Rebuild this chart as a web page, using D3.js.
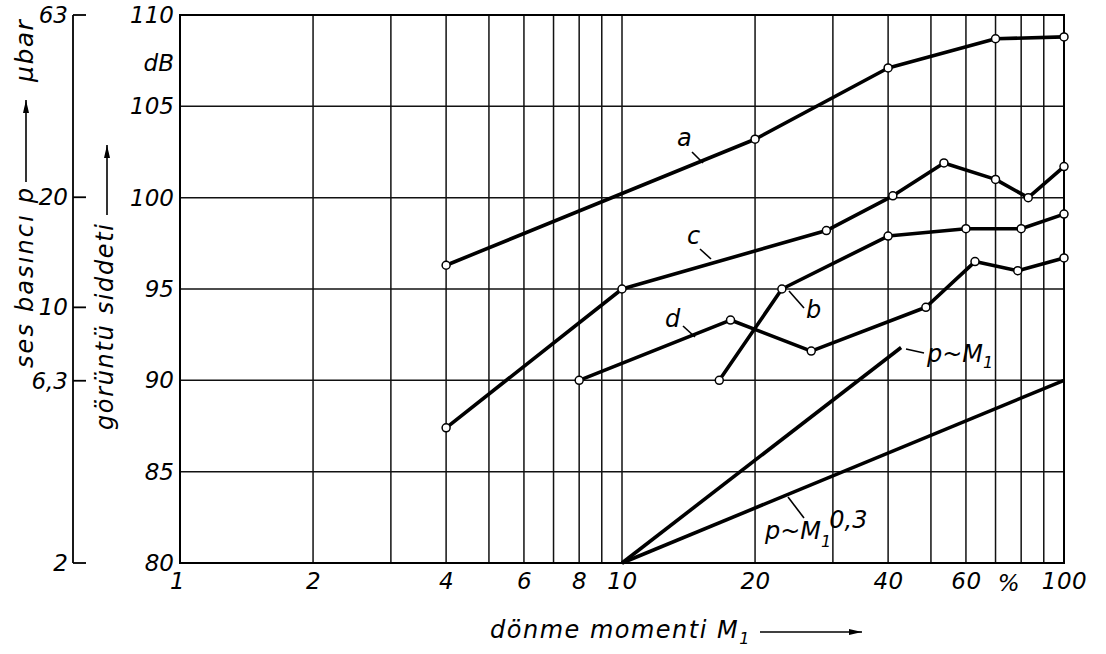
<!DOCTYPE html>
<html><head><meta charset="utf-8">
<script src="https://cdn.jsdelivr.net/npm/d3@7"></script>
<style>body{margin:0;background:#fff}</style>
</head><body>
<svg id="chart" width="1106" height="654"></svg>
<script>
// ---- data ----
const xTickValues = [1, 2, 4, 6, 8, 10, 20, 40, 60, 100];
const xGridValues = [2, 3, 4, 5, 6, 7, 8, 9, 10, 20, 30, 40, 50, 60, 70, 80, 90];
const xUnitLabel = "%";
const xUnitAt = 75;
const yTickValues = [80, 85, 90, 95, 100, 105, 110];
const pTickValues = [2, 6.3, 10, 20, 63];
const pTickLabels = ["2", "6,3", "10", "20", "63"];
const seriesA = [[4, 96.3], [20, 103.2], [40, 107.1], [70, 108.7], [100, 108.8]];
const seriesB = [[16.6, 90], [23, 95], [40, 97.9], [60, 98.3], [80, 98.3], [100, 99.1]];
const seriesC = [[4, 87.4], [10, 95], [29, 98.2], [41, 100.1], [53.5, 101.9], [70, 101.0], [83, 100.0], [100, 101.7]];
const seriesD = [[8, 90], [17.6, 93.3], [26.8, 91.6], [48.7, 94.0], [62.9, 96.5], [78.6, 96.0], [100, 96.7]];
const lineP1 = [[10, 80], [42.8, 91.8]];
const lineP03 = [[10, 80], [100, 90]];

// ---- layout ----
const svg = d3.select("#chart");
const L = 180, R = 1064, T = 15, B = 563;
const x = d3.scaleLog().domain([1, 100]).range([L, R]);
const y = d3.scaleLinear().domain([80, 110]).range([B, T]);
const p = d3.scaleLog().domain([2, 63]).range([B, T]);
const numFont = "'DejaVu Sans', sans-serif";
const txtFont = "'DejaVu Sans', sans-serif";
const NUM = 23;

// grid
const g = svg.append("g");
g.selectAll(".vg").data(xGridValues).join("line")
  .attr("x1", d => x(d)).attr("x2", d => x(d)).attr("y1", T).attr("y2", B)
  .attr("stroke", "#111").attr("stroke-width", 1.5);
g.selectAll(".hg").data(yTickValues.slice(1, -1)).join("line")
  .attr("x1", L).attr("x2", R).attr("y1", d => y(d)).attr("y2", d => y(d))
  .attr("stroke", "#111").attr("stroke-width", 1.5);
g.append("rect").attr("x", L).attr("y", T).attr("width", R - L).attr("height", B - T)
  .attr("fill", "none").attr("stroke", "#000").attr("stroke-width", 2);

// x axis labels
const xa = svg.append("g").attr("transform", `translate(0,${B})`)
  .call(d3.axisBottom(x).tickValues(xTickValues).tickSize(0).tickPadding(10).tickFormat(d3.format("d")));
xa.select(".domain").remove();
xa.selectAll("text").attr("font-family", numFont).attr("font-style", "italic")
  .attr("font-size", NUM).attr("fill", "#000").attr("dx", d => d === 1 ? -3 : 0).attr("letter-spacing", 0.5);
svg.append("text").attr("x", x(xUnitAt)).attr("y", 591).attr("text-anchor", "middle")
  .attr("font-family", numFont).attr("font-style", "italic").attr("font-size", NUM).text(xUnitLabel);

// y axis labels (dB)
const ya = svg.append("g").attr("transform", `translate(${L},0)`)
  .call(d3.axisLeft(y).tickValues(yTickValues).tickSize(0).tickPadding(6));
ya.select(".domain").remove();
ya.selectAll("text").attr("font-family", numFont).attr("font-style", "italic")
  .attr("font-size", NUM).attr("fill", "#000");
svg.append("text").attr("x", 174).attr("y", 71).attr("text-anchor", "end")
  .attr("font-family", numFont).attr("font-style", "italic").attr("font-size", NUM).text("dB");

// outer pressure axis
const PX = 73;
svg.append("line").attr("x1", PX).attr("x2", PX).attr("y1", p(63)).attr("y2", p(2))
  .attr("stroke", "#000").attr("stroke-width", 1.8);
svg.selectAll(".pt").data(pTickValues).join("line")
  .attr("x1", PX).attr("x2", PX + 13).attr("y1", d => p(d)).attr("y2", d => p(d))
  .attr("stroke", "#000").attr("stroke-width", 1.8);
svg.selectAll(".pl").data(pTickValues).join("text")
  .attr("x", PX - 5).attr("y", d => p(d) + 8).attr("text-anchor", "end")
  .attr("font-family", numFont).attr("font-style", "italic").attr("font-size", NUM)
  .text((d, i) => pTickLabels[i]);

// arrow helper
function arrow(sel, x1, y1, x2, y2) {
  sel.append("line").attr("x1", x1).attr("y1", y1).attr("x2", x2).attr("y2", y2)
    .attr("stroke", "#000").attr("stroke-width", 1.6);
  const a = Math.atan2(y2 - y1, x2 - x1), len = 13, w = 3;
  const bx = x2 - len * Math.cos(a), by = y2 - len * Math.sin(a);
  sel.append("path").attr("d",
    `M${x2},${y2}L${bx - w * Math.sin(a)},${by + w * Math.cos(a)}L${bx + w * Math.sin(a)},${by - w * Math.cos(a)}Z`)
    .attr("fill", "#000");
}
function title(sel, tx, ux, len, size) {
  const t = sel.append("text").attr("x", ux).attr("y", 0).attr("font-family", txtFont)
    .attr("font-style", "italic").attr("font-size", size).text(tx);
  if (len) t.attr("textLength", len).attr("lengthAdjust", "spacing");
  return t;
}

// rotated titles
const t1 = svg.append("g").attr("transform", "translate(33,368) rotate(-90)");
title(t1, "ses basıncı p", 0, 180, 24);
arrow(t1, 186, -7, 268, -7);
title(t1, "µbar", 286, null, 25).attr("letter-spacing", 1.5);

const t2 = svg.append("g").attr("transform", "translate(113,430) rotate(-90)");
title(t2, "görüntü siddeti", 0, 206, 24);
arrow(t2, 215, -6, 285, -6);

// x title
const xt = svg.append("text").attr("x", 490).attr("y", 638).attr("font-family", txtFont)
  .attr("font-style", "italic").attr("font-size", 24).attr("letter-spacing", 1.5);
xt.append("tspan").text("dönme momenti M");
xt.append("tspan").attr("dy", 6).attr("font-size", 16).text("1");
arrow(svg, 760, 632, 862, 632);

// data lines
const line = d3.line().x(d => x(d[0])).y(d => y(d[1]));
const series = [seriesA, seriesB, seriesC, seriesD];
const dl = svg.append("g");
[...series, lineP1, lineP03].forEach(s => {
  dl.append("path").datum(s).attr("d", line).attr("fill", "none")
    .attr("stroke", "#000").attr("stroke-width", 3.6).attr("stroke-linejoin", "round");
});
series.forEach(s => {
  dl.selectAll(null).data(s).join("circle")
    .attr("cx", d => x(d[0])).attr("cy", d => y(d[1])).attr("r", 4)
    .attr("fill", "#fff").attr("stroke", "#000").attr("stroke-width", 1.5);
});

// annotations
const ann = svg.append("g").attr("font-family", txtFont).attr("font-style", "italic").attr("font-size", 24);
function leader(x1, y1, x2, y2) {
  ann.append("line").attr("x1", x1).attr("y1", y1).attr("x2", x2).attr("y2", y2)
    .attr("stroke", "#000").attr("stroke-width", 1.6);
}
ann.append("text").attr("x", 677).attr("y", 146).text("a"); leader(692, 152, 703, 163);
ann.append("text").attr("x", 687).attr("y", 244).text("c"); leader(700, 249, 711, 259);
ann.append("text").attr("x", 665).attr("y", 327).text("d"); leader(683, 326, 695, 337);
ann.append("text").attr("x", 806).attr("y", 318).text("b"); leader(789, 291, 804, 308);
const pm1 = ann.append("text").attr("x", 927).attr("y", 362);
pm1.append("tspan").text("p~M");
pm1.append("tspan").attr("dy", 6).attr("font-size", 16).text("1");
leader(906, 349, 924, 353);
const pm03 = ann.append("text").attr("x", 765).attr("y", 539);
pm03.append("tspan").text("p~M");
pm03.append("tspan").attr("dy", 8).attr("font-size", 16).text("1");
pm03.append("tspan").attr("dy", -19).attr("dx", -2).text("0,3");
leader(788, 497, 804, 518);
</script>
</body></html>
